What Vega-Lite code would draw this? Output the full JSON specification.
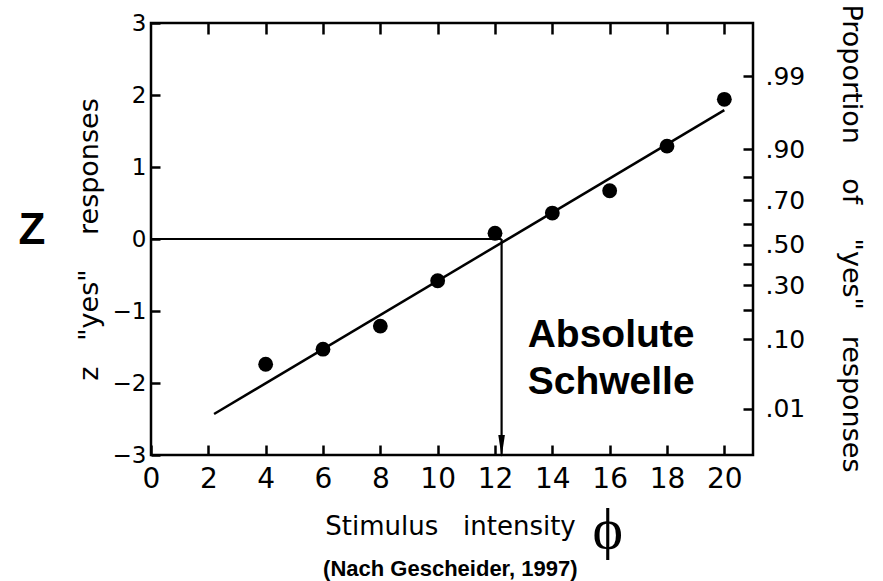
{
  "$schema": "https://vega.github.io/schema/vega-lite/v6.json",
  "width": 602,
  "height": 432,
  "autosize": {"type": "none"},
  "padding": {"left": 151, "top": 23, "right": 130, "bottom": 126},
  "background": "white",
  "config": {
    "view": {"stroke": "black", "strokeWidth": 2.5},
    "axis": {
      "grid": false,
      "domain": false,
      "tickColor": "black",
      "tickWidth": 2.5,
      "labelColor": "black",
      "titleColor": "black",
      "labelFont": "DejaVu Sans",
      "titleFont": "DejaVu Sans",
      "titleFontWeight": "normal",
      "labelFlush": false,
      "labelOverlap": false,
      "labelBound": false
    }
  },
  "resolve": {"axis": {"x": "independent", "y": "independent"}},
  "layer": [
    {
      "data": {"values": [
        {"x": 4, "z": -1.74},
        {"x": 6, "z": -1.53},
        {"x": 8, "z": -1.21},
        {"x": 10, "z": -0.58},
        {"x": 12, "z": 0.08},
        {"x": 14, "z": 0.36},
        {"x": 16, "z": 0.67},
        {"x": 18, "z": 1.29},
        {"x": 20, "z": 1.94}
      ]},
      "mark": {"type": "circle", "size": 220, "color": "black", "opacity": 1},
      "encoding": {
        "x": {"field": "x", "type": "quantitative",
          "scale": {"domain": [0, 21], "nice": false, "zero": false},
          "axis": {"orient": "bottom", "values": [0, 2, 4, 6, 8, 10, 12, 14, 16, 18, 20],
            "offset": -10, "tickSize": 10, "labelPadding": 10, "labelFontSize": 28,
            "title": "Stimulus\u00a0\u00a0\u00a0intensity", "titleFontSize": 26,
            "titleX": 299, "titleY": 89, "titleAlign": "center", "titleBaseline": "alphabetic", "titleAngle": 0}},
        "y": {"field": "z", "type": "quantitative",
          "scale": {"domain": [-3, 3], "nice": false, "zero": false},
          "axis": {"orient": "left", "values": [-3, -2, -1, 0, 1, 2, 3],
            "offset": -9, "tickSize": 9, "labelPadding": 5, "labelFontSize": 23,
            "title": "z\u00a0\u00a0\u00a0\"yes\"\u00a0\u00a0\u00a0\u00a0responses", "titleFontSize": 27,
            "titleX": -63, "titleY": 216, "titleAngle": -90, "titleAlign": "center", "titleBaseline": "alphabetic"}}
      }
    },
    {
      "data": {"values": [
        {"x": 2.2, "z": -2.43},
        {"x": 20.0, "z": 1.79}
      ]},
      "mark": {"type": "line", "color": "black", "strokeWidth": 2.5},
      "encoding": {
        "x": {"field": "x", "type": "quantitative",
          "scale": {"domain": [0, 21], "nice": false, "zero": false},
          "axis": {"orient": "top", "values": [2, 4, 6, 8, 10, 12, 14, 16, 18, 20],
            "offset": -11, "tickSize": 11, "labels": false, "title": null}},
        "y": {"field": "z", "type": "quantitative",
          "scale": {"domain": [-3, 3], "nice": false, "zero": false},
          "axis": {"orient": "right",
            "values": [2.26, 1.25, 0.86, 0.54, 0.21, -0.08, -0.35, -0.64, -0.99, -1.39, -2.36],
            "labelExpr": "datum.value == 2.26 ? '.99' : datum.value == 1.25 ? '.90' : datum.value == 0.54 ? '.70' : datum.value == -0.08 ? '.50' : datum.value == -0.64 ? '.30' : datum.value == -1.39 ? '.10' : datum.value == -2.36 ? '.01' : ''",
            "offset": -10, "tickSize": 10, "labelPadding": 12, "labelFontSize": 25, "labelAlign": "left", "labelBaseline": "middle",
            "title": "Proportion\u00a0\u00a0\u00a0\u00a0of\u00a0\u00a0\u00a0\u00a0\"yes\"\u00a0\u00a0\u00a0responses", "titleFontSize": 27,
            "titleX": 99, "titleY": 215, "titleAngle": 90, "titleAlign": "center", "titleBaseline": "alphabetic"}}
      }
    },
    {
      "data": {"values": [
        {"x": 0, "x2": 12.23, "z": 0, "z2": 0},
        {"x": 12.23, "x2": 12.23, "z": 0, "z2": -3}
      ]},
      "mark": {"type": "rule", "color": "black", "strokeWidth": 2.2},
      "encoding": {
        "x": {"field": "x", "type": "quantitative", "scale": {"domain": [0, 21], "nice": false, "zero": false}, "axis": null},
        "x2": {"field": "x2"},
        "y": {"field": "z", "type": "quantitative", "scale": {"domain": [-3, 3], "nice": false, "zero": false}, "axis": null},
        "y2": {"field": "z2"}
      }
    },
    {
      "data": {"values": [{"x": 12.23, "z": -2.875}]},
      "mark": {"type": "point", "shape": "M-0.3,-1L0.3,-1L0,1Z", "filled": true, "size": 484, "color": "black", "opacity": 1},
      "encoding": {
        "x": {"field": "x", "type": "quantitative", "scale": {"domain": [0, 21], "nice": false, "zero": false}, "axis": null},
        "y": {"field": "z", "type": "quantitative", "scale": {"domain": [-3, 3], "nice": false, "zero": false}, "axis": null}
      }
    },
    {
      "data": {"values": [
        {"x": 13.14, "z": -1.5, "label": "Absolute"},
        {"x": 13.14, "z": -2.153, "label": "Schwelle"}
      ]},
      "mark": {"type": "text", "font": "Liberation Sans", "fontWeight": "bold", "fontSize": 39, "align": "left", "baseline": "alphabetic", "color": "black"},
      "encoding": {
        "x": {"field": "x", "type": "quantitative", "scale": {"domain": [0, 21], "nice": false, "zero": false}, "axis": null},
        "y": {"field": "z", "type": "quantitative", "scale": {"domain": [-3, 3], "nice": false, "zero": false}, "axis": null},
        "text": {"field": "label"}
      }
    },
    {
      "data": {"values": [{"x": -4.15, "z": -0.07, "label": "Z"}]},
      "mark": {"type": "text", "font": "Liberation Sans", "fontWeight": "bold", "fontSize": 44, "align": "center", "baseline": "alphabetic", "color": "black"},
      "encoding": {
        "x": {"field": "x", "type": "quantitative", "scale": {"domain": [0, 21], "nice": false, "zero": false}, "axis": null},
        "y": {"field": "z", "type": "quantitative", "scale": {"domain": [-3, 3], "nice": false, "zero": false}, "axis": null},
        "text": {"field": "label"}
      }
    },
    {
      "data": {"values": [{"x": 15.93, "z": -4.29, "label": "ϕ"}]},
      "mark": {"type": "text", "font": "Liberation Serif", "fontSize": 58, "align": "center", "baseline": "alphabetic", "color": "black"},
      "encoding": {
        "x": {"field": "x", "type": "quantitative", "scale": {"domain": [0, 21], "nice": false, "zero": false}, "axis": null},
        "y": {"field": "z", "type": "quantitative", "scale": {"domain": [-3, 3], "nice": false, "zero": false}, "axis": null},
        "text": {"field": "label"}
      }
    },
    {
      "data": {"values": [{"x": 10.44, "z": -4.68, "label": "(Nach Gescheider, 1997)"}]},
      "mark": {"type": "text", "font": "Liberation Sans", "fontWeight": "bold", "fontSize": 22, "align": "center", "baseline": "alphabetic", "color": "black"},
      "encoding": {
        "x": {"field": "x", "type": "quantitative", "scale": {"domain": [0, 21], "nice": false, "zero": false}, "axis": null},
        "y": {"field": "z", "type": "quantitative", "scale": {"domain": [-3, 3], "nice": false, "zero": false}, "axis": null},
        "text": {"field": "label"}
      }
    }
  ]
}
